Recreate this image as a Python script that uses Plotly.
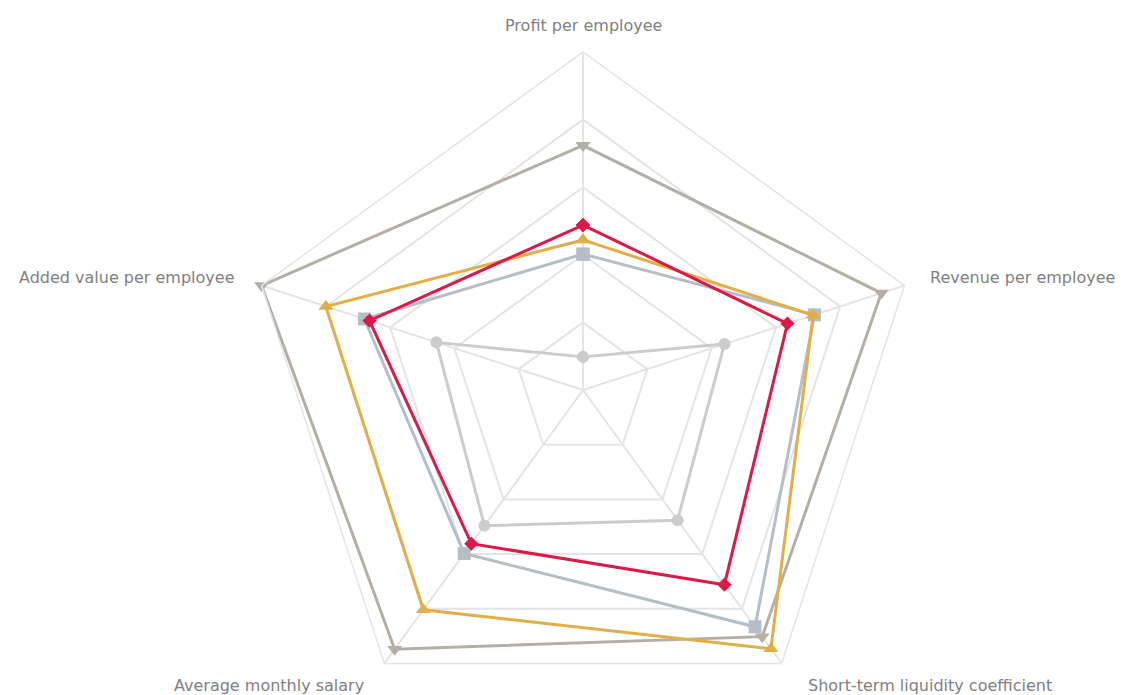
import plotly.graph_objects as go

categories = ["Profit per employee", "Revenue per employee", "Short-term liquidity coefficient",
              "Average monthly salary", "Added value per employee"]

series_circle = [0.49, 2.20, 2.38, 2.48, 2.28]
series_square = [2.01, 3.60, 4.33, 2.99, 3.40]
series_tridown = [3.62, 4.64, 4.51, 4.74, 5.00]
series_triup = [2.22, 3.58, 4.73, 4.02, 4.00]
series_diamond = [2.44, 3.18, 3.56, 2.81, 3.32]

styles = [
    ("Series E", series_circle, "#cccccc", "circle", 12),
    ("Series D", series_square, "#b5bdc7", "square", 13),
    ("Series B", series_tridown, "#b5aea7", "triangle-down", 13),
    ("Series C", series_triup, "#e1ae48", "triangle-up", 13),
    ("Series A", series_diamond, "#dc1a47", "diamond", 11),
]

fig = go.Figure()
for name, vals, color, sym, size in styles:
    fig.add_trace(go.Scatterpolar(
        r=vals + vals[:1], theta=categories + categories[:1], name=name,
        mode="lines+markers",
        line=dict(color=color, width=3),
        marker=dict(symbol=sym, size=size, color=color),
        showlegend=False,
    ))

# axis label placement (paper coordinates around the polar area)
label_pos = [
    (0.5009, 1.0399, "center"),
    (0.8230, 0.6657, "left"),
    (0.8249, 0.0636, "center"),
    (0.2060, 0.0636, "center"),
    (0.1760, 0.6657, "right"),
]
for cat, (x, y, anchor) in zip(categories, label_pos):
    fig.add_annotation(text=cat, x=x, y=y, xref="paper", yref="paper",
                       xanchor=anchor, yanchor="middle", showarrow=False,
                       font=dict(family="DejaVu Sans", size=16, color="#808080"))

W, H = 1109, 745
fig.update_layout(
    width=W, height=H,
    margin=dict(l=41, r=0, t=44, b=25),
    paper_bgcolor="white",
    font=dict(family="DejaVu Sans", size=14, color="#808080"),
    polar=dict(
        bgcolor="white",
        gridshape="linear",
        radialaxis=dict(range=[0, 5], dtick=1, showticklabels=False, ticks="",
                        showline=False, gridcolor="#e4e4e4", gridwidth=1.5),
        angularaxis=dict(rotation=90, direction="clockwise", ticks="",
                         showticklabels=False,
                         linecolor="#e4e4e4", gridcolor="#e4e4e4", linewidth=1.5,
                         gridwidth=1.5),
    ),
)

fig.write_html("out.html")
